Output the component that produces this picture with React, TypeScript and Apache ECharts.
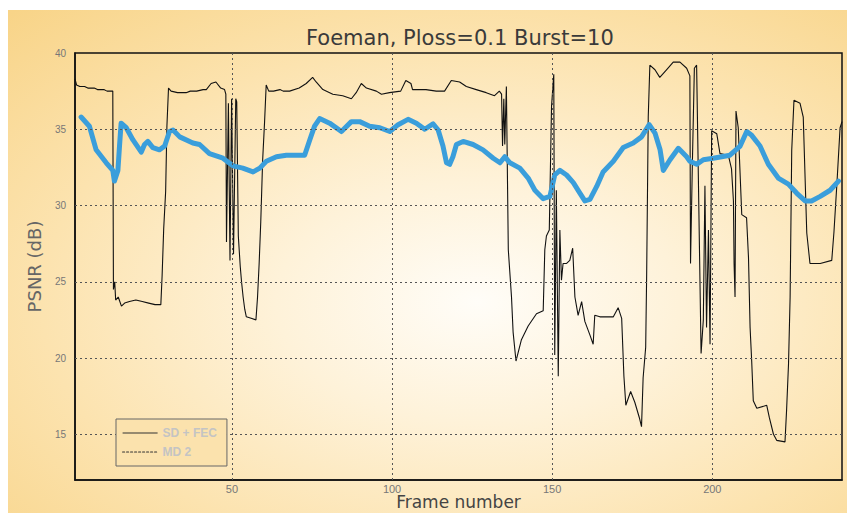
import React, { useEffect, useRef } from 'react';
import * as echarts from 'echarts';

const titleText = 'Foeman, Ploss=0.1 Burst=10';
const xTickLabels = [50, 100, 150, 200];
const yTickLabels = [15, 20, 25, 30, 35, 40];

// SD + FEC (black thin line)
const sdFrames = [
  1.0, 1.5, 2.5, 4, 5, 7, 8, 10, 11, 12.8, 13.0, 13.4, 13.7, 14.5, 15.5, 16.5, 18, 20, 22, 24, 26, 27.8,
  28.2, 28.7, 29.3, 29.7, 30.2, 31, 33, 35.7, 37, 39, 41, 42, 43.5, 45, 46.5, 47.7, 48.1, 48.3, 48.9,
  49.4, 49.9, 50.5, 51.2, 51.5, 52.0, 52.6, 53.0, 53.5, 54.0, 54.5, 56.0, 57.5, 58.0, 58.5, 59.0, 59.6,
  60.2, 60.7, 61.5, 63, 65, 66, 68, 71, 73.2, 75.2, 76.3, 78.4, 81.5, 84.6, 87.3, 88.8, 90.4, 92, 95.1,
  96.7, 99.2, 102.7, 104.3, 105.9, 106.4, 110.6, 113.8, 116.4, 118.5, 121.1, 123.2, 126.3, 129.4, 132,
  133.5, 134.2, 134.5, 134.9, 135.2, 135.7, 136.3, 137.3, 137.8, 138.7, 140.4, 142.5, 145.1, 147.2,
  147.7, 148.2, 149.1, 149.8, 150.5, 150.8, 151.3, 151.9, 152.4, 152.9, 153.4, 154.5, 155.5, 156.4,
  157.1, 158.1, 159.2, 160.2, 161.8, 162.8, 163.3, 164.9, 169.1, 170.6, 171.7, 172.4, 173, 174.5,
  175.8, 177.2, 177.9, 178.4, 179.2, 179.5, 180, 180.5, 182.1, 183.6, 185.7, 187.8, 189.9, 192, 193,
  193.2, 193.8, 194.4, 195.1, 195.6, 196.5, 197.2, 197.7, 198.2, 198.8, 199.3, 199.8, 201.4, 202.4,
  205, 206, 206.6, 206.8, 207.1, 207.4, 208.1, 209.2, 210.7, 211.3, 211.8, 212.3, 212.8, 213.9, 217,
  217.8, 219.1, 220.1, 222.7, 223.2, 223.8, 224.3, 224.8, 225.5, 227.4, 228.4, 229.5, 230.5, 233.7,
  237.3, 238, 238.9, 239.9, 240.5,
];
const sdPsnr = [
  38.3, 37.9, 37.8, 37.8, 37.7, 37.7, 37.6, 37.6, 37.5, 37.5, 24.5, 25.0, 23.8, 24.0, 23.4, 23.6, 23.7,
  23.8, 23.7, 23.6, 23.5, 23.5, 25.4, 28.5, 30.9, 35.2, 37.7, 37.5, 37.4, 37.4, 37.5, 37.5, 37.6, 37.6,
  38.0, 38.1, 37.7, 37.6, 37.3, 27.6, 36.7, 26.4, 37.0, 26.8, 37.0, 36.8, 28.0, 26.0, 25.0, 24.0, 23.2,
  22.7, 22.6, 22.5, 24.0, 26.2, 28.9, 33.0, 35.5, 37.9, 37.5, 37.5, 37.6, 37.5, 37.5, 37.7, 38.0, 38.4,
  38.1, 37.6, 37.3, 37.2, 37.0, 37.4, 38.0, 37.7, 37.5, 37.3, 37.4, 37.5, 38.2, 38.0, 37.6, 37.6, 37.5,
  37.5, 38.2, 38.1, 37.8, 37.6, 37.4, 37.2, 37.5, 37.3, 33.9, 37.0, 34.0, 37.8, 27.1, 24.0, 21.7, 19.8,
  21.2, 22.1, 22.9, 23.1, 27.1, 28.0, 28.4, 36.5, 38.6, 20.2, 31.0, 18.8, 28.4, 25.1, 26.2, 26.2, 26.4,
  27.2, 24.0, 22.8, 23.7, 22.4, 21.5, 20.9, 22.8, 22.7, 22.7, 23.3, 22.6, 18.8, 16.9, 17.8, 17.1, 16.1,
  15.5, 18.7, 20.7, 25.4, 35.8, 39.2, 38.9, 38.4, 38.9, 39.4, 39.4, 39.0, 38.5, 26.2, 33.0, 39.0, 39.2,
  32.5, 20.3, 22.5, 31.3, 22.0, 28.4, 20.9, 34.9, 34.7, 33.4, 33.3, 32.4, 30.3, 26.2, 24.0, 36.2, 35.1,
  29.4, 29.2, 26.6, 22.0, 19.8, 17.2, 16.7, 16.9, 16.1, 15.0, 14.6, 14.5, 16.6, 19.6, 24.0, 33.6, 36.9,
  36.7, 35.8, 28.2, 26.2, 26.2, 26.4, 28.3, 31.4, 35.1, 35.5,
];

// MD 2 (thick blue line)
const md2Frames = [
  2.9, 5.5, 7.6, 10.75, 12.8, 13.3, 14.4, 14.9, 15.4, 17, 19.1, 21.7, 22.7, 23.75, 25.3, 27.4, 29, 30.5,
  31.6, 33.7, 37.8, 39.9, 43, 47.2, 50.3, 53.4, 56.6, 58.7, 60.75, 63.9, 67, 72.7, 74.3, 75.8, 77.4,
  80.5, 84.2, 87.3, 89.9, 93, 96.2, 99.3, 101.9, 105, 107.6, 110.2, 112.8, 114.4, 115.9, 117, 118, 119,
  120.1, 122.2, 125.3, 128.4, 131.6, 133.7, 135.2, 136.8, 139.9, 142.5, 144.6, 147.2, 149.3, 150.8,
  152.4, 154.5, 156.6, 158.7, 160.2, 161.8, 163.9, 165.9, 169.1, 172.2, 175.3, 177.9, 180.3, 182.1,
  183.7, 184.7, 186.8, 189.4, 192, 193, 195.1, 197.2, 200.3, 205.5, 208.7, 210.75, 212.3, 214.9, 217.5,
  220.6, 223.75, 226.4, 229, 231, 233.7, 236.8, 239.4,
];
const md2Psnr = [
  35.8, 35.2, 33.65, 32.8, 32.3, 31.6, 32.3, 33.9, 35.4, 35.1, 34.3, 33.5, 34.0, 34.2, 33.8, 33.65, 33.9,
  34.85, 34.95, 34.5, 34.1, 34.0, 33.4, 33.1, 32.6, 32.45, 32.2, 32.45, 32.9, 33.2, 33.3, 33.3, 34.3,
  35.2, 35.7, 35.4, 34.85, 35.5, 35.5, 35.2, 35.1, 34.85, 35.3, 35.65, 35.4, 35.0, 35.35, 34.95, 33.9,
  32.8, 32.7, 33.2, 34.0, 34.2, 34.0, 33.65, 33.1, 32.8, 33.2, 32.8, 32.45, 31.8, 31.0, 30.45, 30.6,
  32.0, 32.3, 32.0, 31.5, 30.8, 30.3, 30.4, 31.25, 32.2, 32.9, 33.8, 34.1, 34.5, 35.3, 34.75, 33.65,
  32.3, 33.0, 33.75, 33.2, 32.9, 32.7, 33.0, 33.1, 33.3, 33.9, 34.85, 34.6, 33.9, 32.7, 31.8, 31.4,
  30.8, 30.3, 30.3, 30.6, 31.0, 31.6,
];

const W = 839;
const H = 503;

export default function App() {
  const ref = useRef<HTMLDivElement>(null);
  useEffect(() => {
    const chart = echarts.init(ref.current!, null, { renderer: 'svg' });
    const sdData = sdFrames.map((f, i) => [f, sdPsnr[i]]);
    const mdData = md2Frames.map((f, i) => [f, md2Psnr[i]]);
    const gridMarks = [
      ...xTickLabels.map((x) => ({ xAxis: x })),
      ...yTickLabels.filter((y) => y < 40).map((y) => ({ yAxis: y })),
    ];
    const bg = new echarts.graphic.RadialGradient(0.56, 0.58, 0.8, [
      { offset: 0, color: '#fffdf8' },
      { offset: 0.3, color: '#fef2d9' },
      { offset: 0.65, color: '#fce3af' },
      { offset: 1, color: '#f8d488' },
    ]);
    chart.setOption({
      animation: false,
      graphic: [
        {
          type: 'rect',
          silent: true,
          z: -100,
          shape: { x: 0, y: 0, width: W, height: H },
          style: { fill: bg },
        },
      ],
      title: {
        text: titleText,
        left: 293,
        top: 12,
        textStyle: { fontFamily: 'DejaVu Sans', fontSize: 21, fontWeight: 'normal', color: '#3a3a3a' },
      },
      legend: {
        orient: 'vertical',
        left: 108,
        top: 409,
        padding: [8, 10, 8, 6],
        itemGap: 7,
        itemWidth: 35,
        itemHeight: 12,
        borderColor: '#666',
        borderWidth: 1,
        backgroundColor: '#fbe2ad',
        z: 10,
        textStyle: { color: '#c4c4c4', fontSize: 12, fontFamily: 'Liberation Sans', fontWeight: 'bold' },
        data: [
          {
            name: 'SD + FEC',
            itemStyle: { opacity: 0 },
            lineStyle: { color: '#333', width: 1.2, type: 'solid' },
          },
          {
            name: 'MD 2',
            itemStyle: { opacity: 0 },
            lineStyle: { color: '#333', width: 1.2, type: [2, 2] },
          },
        ],
      },
      grid: {
        left: 67,
        right: 5,
        top: 43,
        bottom: 33,
        show: true,
        borderColor: '#111',
        borderWidth: 1.5,
        backgroundColor: 'transparent',
        outerBoundsMode: 'none',
        containLabel: false,
      },
      xAxis: {
        type: 'value',
        min: 1,
        max: 240.5,
        interval: 1,
        axisLine: { show: true, lineStyle: { color: '#111', width: 1.5 } },
        axisTick: { show: false },
        splitLine: { show: false },
        axisLabel: {
          formatter: (v: number) => (xTickLabels.includes(v) ? String(v) : ''),
          fontSize: 11,
          color: '#777',
          margin: 3,
          fontFamily: 'Liberation Sans',
        },
        name: 'Frame number',
        nameLocation: 'middle',
        nameGap: 13,
        nameMoveOverlap: false,
        nameTextStyle: { fontFamily: 'DejaVu Sans', fontSize: 17, color: '#444' },
      },
      yAxis: {
        type: 'value',
        min: 12,
        max: 40,
        interval: 1,
        axisLine: { show: true, lineStyle: { color: '#111', width: 1.5 } },
        axisTick: { show: false },
        splitLine: { show: false },
        axisLabel: {
          formatter: (v: number) => (yTickLabels.includes(v) ? String(v) : ''),
          fontSize: 10,
          color: '#777',
          margin: 9,
          fontFamily: 'Liberation Sans',
        },
        name: 'PSNR (dB)',
        nameLocation: 'middle',
        nameGap: 28,
        nameTextStyle: { fontFamily: 'DejaVu Sans', fontSize: 18, color: '#666' },
      },
      series: [
        {
          type: 'line',
          name: 'SD + FEC',
          data: sdData,
          symbol: 'none',
          z: 2,
          lineStyle: { color: '#111', width: 1.1 },
          itemStyle: { color: '#111' },
          markLine: {
            silent: true,
            symbol: ['none', 'none'],
            label: { show: false },
            lineStyle: { color: '#555', type: [2, 3], width: 1 },
            data: gridMarks,
          },
        },
        {
          type: 'line',
          name: 'MD 2',
          data: mdData,
          symbol: 'none',
          z: 3,
          lineStyle: { color: '#3a9edb', width: 5, cap: 'round', join: 'round' },
          itemStyle: { color: '#3a9edb' },
        },
      ],
    });
    return () => chart.dispose();
  }, []);
  return <div ref={ref} style={{ position: 'absolute', left: 8, top: 10, width: W, height: H }} />;
}
